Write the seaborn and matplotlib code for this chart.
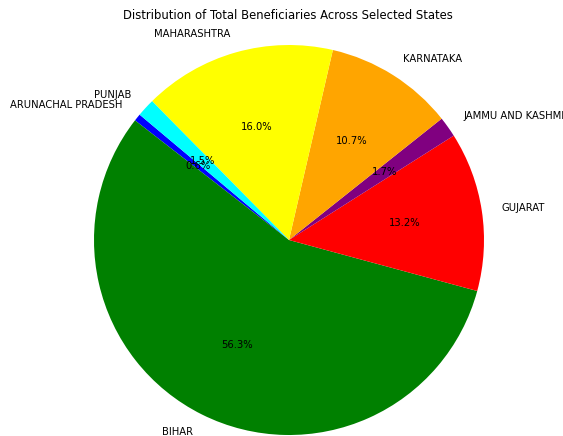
import numpy as np
import pandas as pd
import seaborn as sns
import matplotlib
matplotlib.use('Agg')
import matplotlib.pyplot as plt

sns.set_style('white')
plt.rcParams['text.color'] = 'black'

# share of total beneficiaries (%)
states = ['ARUNACHAL PRADESH', 'BIHAR', 'GUJARAT', 'JAMMU AND KASHMIR',
          'KARNATAKA', 'MAHARASHTRA', 'PUNJAB']
beneficiaries = [0.6, 56.3, 13.2, 1.7, 10.7, 16.0, 1.5]
colors = ['blue', 'green', 'red', 'purple', 'orange', 'yellow', 'cyan']

df = pd.DataFrame({'state': states, 'total': beneficiaries})

W, H = 563, 436
fig = plt.figure(figsize=(W / 100, H / 100), dpi=100)

# pie centre at (289, 240) px, radius ~195 px
r = 195
cx, cy = 289, H - 240
span = 2.5 * r
ax = fig.add_axes([(cx - span / 2) / W, (cy - span / 2) / H, span / W, span / H])

ax.pie(df['total'], labels=df['state'], colors=colors, autopct='%1.1f%%',
       startangle=140, textprops={'fontsize': 7.2},
       wedgeprops={'linewidth': 0, 'edgecolor': 'none'})
ax.set_xlim(-1.25, 1.25)
ax.set_ylim(-1.25, 1.25)
ax.set_aspect('auto')
ax.axis('off')

fig.text(288 / W, 1 - 15.5 / H, 'Distribution of Total Beneficiaries Across Selected States',
         ha='center', va='center', fontsize=8.4)

fig.savefig('out.png', dpi=100)
